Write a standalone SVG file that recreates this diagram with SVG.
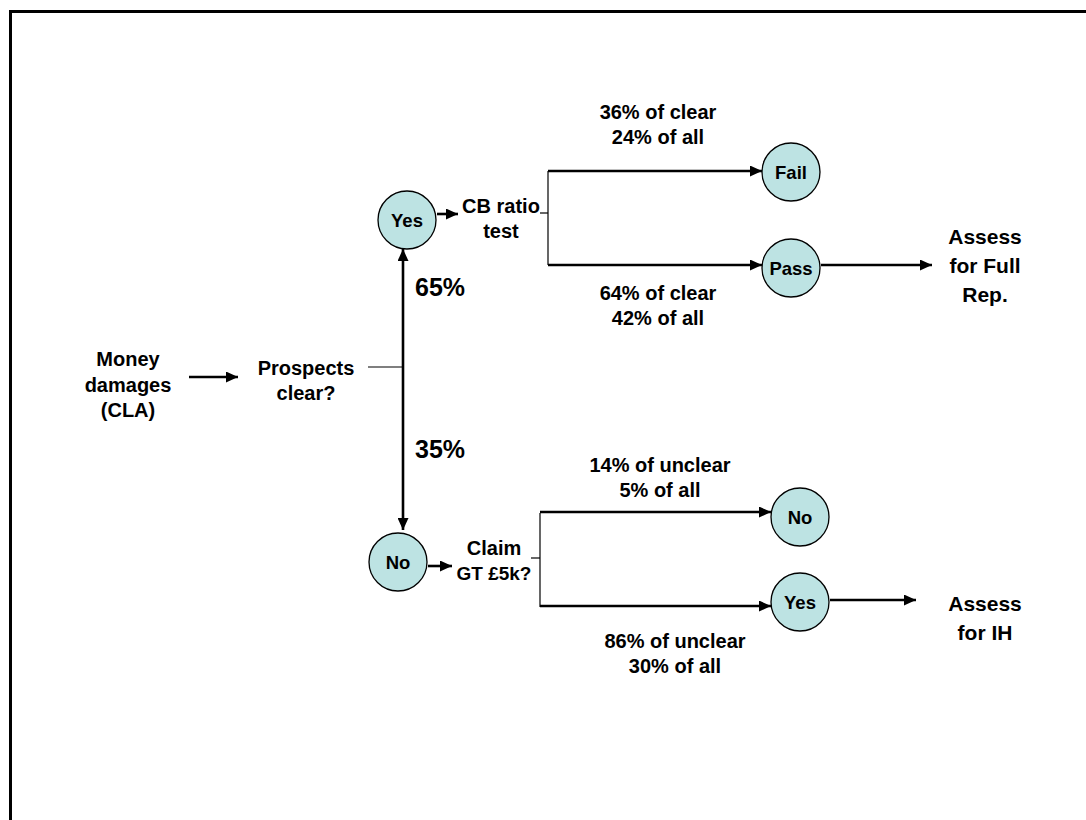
<svg xmlns="http://www.w3.org/2000/svg" width="1086" height="820" viewBox="0 0 1086 820">
<style>
text{font-family:"Liberation Sans",Arial,sans-serif;font-weight:bold;fill:#000;text-anchor:middle}
.t{font-size:20px}
.n{font-size:18.5px}
.a{font-size:21px}
.big{font-size:25px;text-anchor:start}
.node circle{fill:#bde3e3;stroke:#000;stroke-width:1.3}
.thick{stroke:#000;stroke-width:2.6;fill:none}
.thin{stroke:#000;stroke-width:1.2;fill:none}
</style>
<defs>
<marker id="ah" markerUnits="userSpaceOnUse" markerWidth="13" markerHeight="11" refX="12" refY="5.5" orient="auto">
<path d="M0,0 L12,5.5 L0,11 Z" fill="#000"/>
</marker>
</defs>
<rect width="1086" height="820" fill="#fff"/>
<path d="M10.5,820 V11.5 H1086" fill="none" stroke="#000" stroke-width="3"/>

<g id="connectors">
<line class="thick" x1="189" y1="377" x2="238" y2="377" marker-end="url(#ah)"/>
<line class="thin" x1="368" y1="367" x2="403" y2="367"/>
<line class="thick" x1="403" y1="367" x2="403" y2="249" marker-end="url(#ah)"/>
<line class="thick" x1="403" y1="367" x2="403" y2="530" marker-end="url(#ah)"/>
<line class="thick" x1="437" y1="214" x2="458" y2="214" marker-end="url(#ah)"/>
<line class="thin" x1="540" y1="213" x2="548" y2="213"/>
<line class="thin" x1="548" y1="171" x2="548" y2="265"/>
<line class="thick" x1="548" y1="171" x2="762" y2="171" marker-end="url(#ah)"/>
<line class="thick" x1="548" y1="265" x2="762" y2="265" marker-end="url(#ah)"/>
<line class="thick" x1="821" y1="265" x2="932" y2="265" marker-end="url(#ah)"/>
<line class="thick" x1="428" y1="566" x2="452" y2="566" marker-end="url(#ah)"/>
<line class="thin" x1="531" y1="558" x2="540" y2="558"/>
<line class="thin" x1="540" y1="513" x2="540" y2="607"/>
<line class="thick" x1="540" y1="512" x2="771" y2="512" marker-end="url(#ah)"/>
<line class="thick" x1="540" y1="606" x2="771" y2="606" marker-end="url(#ah)"/>
<line class="thick" x1="830" y1="600" x2="916" y2="600" marker-end="url(#ah)"/>
</g>

<g id="start"><text class="t" x="128" y="366">Money</text><text class="t" x="128" y="392">damages</text><text class="t" x="128" y="417">(CLA)</text></g>
<g id="prospects"><text class="t" x="306" y="375">Prospects</text><text class="t" x="306" y="400">clear?</text></g>
<g id="pct65"><text class="big" x="415" y="296">65%</text></g>
<g id="pct35"><text class="big" x="415" y="458">35%</text></g>
<g id="yes1" class="node"><circle cx="407" cy="220" r="29"/><text class="n" x="407" y="227">Yes</text></g>
<g id="cbratio"><text class="t" x="501" y="213">CB ratio</text><text class="t" x="501" y="238">test</text></g>
<g id="fail" class="node"><circle cx="791" cy="172" r="29"/><text class="n" x="791" y="179">Fail</text></g>
<g id="pass" class="node"><circle cx="791" cy="268" r="29"/><text class="n" x="791" y="275">Pass</text></g>
<g id="lbl-fail"><text class="t" x="658" y="119">36% of clear</text><text class="t" x="658" y="144">24% of all</text></g>
<g id="lbl-pass"><text class="t" x="658" y="300">64% of clear</text><text class="t" x="658" y="325">42% of all</text></g>
<g id="fullrep"><text class="a" x="985" y="244">Assess</text><text class="a" x="985" y="273">for Full</text><text class="a" x="985" y="302">Rep.</text></g>
<g id="no1" class="node"><circle cx="398" cy="562" r="29"/><text class="n" x="398" y="569">No</text></g>
<g id="claim"><text class="t" x="494" y="555">Claim</text><text class="t" x="494" y="580" style="font-size:19px">GT £5k?</text></g>
<g id="no2" class="node"><circle cx="800" cy="517" r="29"/><text class="n" x="800" y="524">No</text></g>
<g id="yes2" class="node"><circle cx="800" cy="602" r="29"/><text class="n" x="800" y="609">Yes</text></g>
<g id="lbl-no2"><text class="t" x="660" y="472">14% of unclear</text><text class="t" x="660" y="497">5% of all</text></g>
<g id="lbl-yes2"><text class="t" x="675" y="648">86% of unclear</text><text class="t" x="675" y="673">30% of all</text></g>
<g id="ih"><text class="a" x="985" y="611">Assess</text><text class="a" x="985" y="640">for IH</text></g>
</svg>
